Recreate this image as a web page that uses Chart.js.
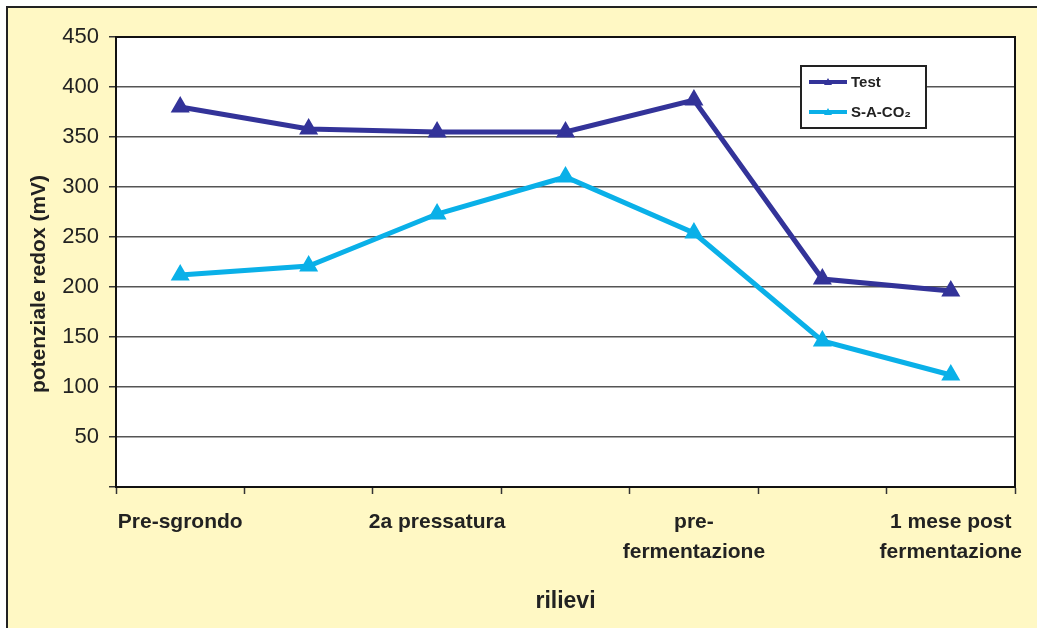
<!DOCTYPE html>
<html><head><meta charset="utf-8">
<script src="https://cdn.jsdelivr.net/npm/chart.js@4.4.0/dist/chart.umd.min.js"></script>
<style>html,body{margin:0;padding:0;background:#fff;}#wrap{width:1037px;height:628px;position:relative}</style>
</head><body><div id="wrap"><canvas id="c" width="1037" height="628"></canvas></div>
<script>
const categories = [['Pre-sgrondo'], '', ['2a pressatura'], '', ['pre-', 'fermentazione'], '', ['1 mese post', 'fermentazione']];
const seriesNames = ['Test', 'S-A-CO₂'];
const testValues = [380, 358, 355, 355, 387, 208, 196];
const sacoValues = [212, 221, 273, 310, 254, 146, 112];
const yMin = 0, yMax = 450, yStep = 50;
const yTitle = 'potenziale redox (mV)';
const xTitle = 'rilievi';

const FONT = "'Liberation Sans', Arial, Helvetica, sans-serif";
const colors = ['#333399', '#0AB0E8'];

const decor = {
  id: 'decor',
  beforeDraw(chart) {
    const ctx = chart.ctx;
    ctx.save();
    ctx.fillStyle = '#ffffff';
    ctx.fillRect(0, 0, chart.width, chart.height);
    ctx.fillStyle = '#FFF8C4';
    ctx.fillRect(7, 7, chart.width - 7, chart.height - 7);
    ctx.strokeStyle = '#222';
    ctx.lineWidth = 2;
    ctx.beginPath();
    ctx.moveTo(7, chart.height); ctx.lineTo(7, 7); ctx.lineTo(chart.width, 7);
    ctx.stroke();
    const a = chart.chartArea;
    ctx.fillStyle = '#ffffff';
    ctx.fillRect(a.left, a.top, a.right - a.left, a.bottom - a.top);
    ctx.restore();
  },
  afterDraw(chart) {
    const ctx = chart.ctx;
    const a = chart.chartArea;
    ctx.save();
    ctx.strokeStyle = '#111';
    ctx.lineWidth = 2;
    ctx.strokeRect(a.left, a.top, a.right - a.left, a.bottom - a.top);
    // axis titles
    ctx.fillStyle = '#222';
    ctx.textAlign = 'center';
    ctx.textBaseline = 'middle';
    ctx.font = 'bold 21px ' + FONT;
    ctx.translate(39, 284);
    ctx.rotate(-Math.PI / 2);
    ctx.fillText(yTitle, 0, 0);
    ctx.setTransform(1, 0, 0, 1, 0, 0);
    ctx.font = 'bold 23px ' + FONT;
    ctx.fillText(xTitle, (a.left + a.right) / 2, 602);
    // legend
    const lx = a.left + 685, ly = a.top + 29, lw = 125, lh = 62;
    ctx.fillStyle = '#fff';
    ctx.fillRect(lx, ly, lw, lh);
    ctx.strokeStyle = '#222';
    ctx.lineWidth = 2;
    ctx.strokeRect(lx, ly, lw, lh);
    chart.data.datasets.forEach((ds, i) => {
      const y = ly + 16 + i * 30;
      ctx.strokeStyle = ds.borderColor;
      ctx.lineWidth = 4;
      ctx.beginPath(); ctx.moveTo(lx + 8, y); ctx.lineTo(lx + 46, y); ctx.stroke();
      ctx.fillStyle = ds.borderColor;
      ctx.beginPath();
      ctx.moveTo(lx + 27, y - 4); ctx.lineTo(lx + 31, y + 3); ctx.lineTo(lx + 23, y + 3); ctx.closePath();
      ctx.fill();
      ctx.fillStyle = '#222';
      ctx.textAlign = 'left';
      ctx.font = 'bold 15px ' + FONT;
      ctx.fillText(ds.label, lx + 50, y + 1);
    });
    ctx.restore();
  }
};

new Chart(document.getElementById('c'), {
  type: 'line',
  data: {
    labels: categories,
    datasets: [
      { label: seriesNames[0], data: testValues, borderColor: colors[0], backgroundColor: colors[0],
        borderWidth: 5, pointStyle: 'triangle', pointRadius: 6, pointHoverRadius: 6, tension: 0 },
      { label: seriesNames[1], data: sacoValues, borderColor: colors[1], backgroundColor: colors[1],
        borderWidth: 5, pointStyle: 'triangle', pointRadius: 6, pointHoverRadius: 6, tension: 0 }
    ]
  },
  options: {
    responsive: false,
    animation: false,
    devicePixelRatio: 1,
    layout: { padding: { top: 37, right: 22, left: 0, bottom: 0 } },
    plugins: { legend: { display: false }, tooltip: { enabled: false } },
    scales: {
      x: {
        offset: true,
        grid: { offset: true, drawOnChartArea: false, drawTicks: true, tickLength: 7, tickColor: '#333', tickWidth: 1.5 },
        border: { display: true, color: '#111', width: 2 },
        ticks: { autoSkip: false, maxRotation: 0, minRotation: 0, padding: 13, color: '#222',
                 font: { family: FONT, size: 21, weight: 'bold', lineHeight: 1.43 } },
        afterFit(scale) { scale.height = 141; }
      },
      y: {
        min: yMin, max: yMax,
        grid: { color: '#555', lineWidth: 1.5, drawTicks: true, tickLength: 7, tickColor: '#333' },
        border: { display: true, color: '#111', width: 2 },
        ticks: { stepSize: yStep, padding: 10, color: '#222',
                 font: { family: FONT, size: 22 },
                 callback: (v) => v === 0 ? '' : v },
        afterFit(scale) { scale.width = 116; }
      }
    }
  },
  plugins: [decor]
});
</script>
</body></html>
